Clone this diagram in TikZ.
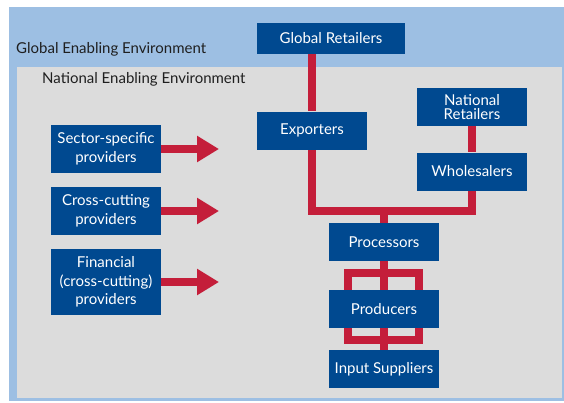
\documentclass[tikz,border=0pt]{standalone}
\usepackage{fontspec}
\setmainfont{Lato}
\usetikzlibrary{arrows.meta, positioning, calc, backgrounds}
\definecolor{vcblue}{RGB}{0,73,144}
\definecolor{vcred}{RGB}{196,30,58}
\definecolor{globalbg}{RGB}{157,191,227}
\definecolor{nationalbg}{RGB}{220,220,220}
\tikzset{
    chainbox/.style={fill=vcblue, text=white, inner sep=0pt, minimum width=110pt, minimum height=38pt, align=center, font=\fontsize{15}{13.5}\selectfont},
    provbox/.style={chainbox, minimum height=48pt, font=\fontsize{15}{18.5}\selectfont},
    link/.style={draw=vcred, line width=8pt},
    supportarrow/.style={draw=vcred, line width=8pt, -{Triangle[width=25pt,length=22pt]}},
    envlabel/.style={anchor=base west, inner sep=0pt, font=\fontsize{15}{15}\selectfont, text=black!88},
}

\begin{document}
\begin{tikzpicture}[x=1pt, y=-1pt]
\useasboundingbox (0,0) rectangle (564,402);
% value chain
\node[chainbox, minimum width=148pt, minimum height=31pt] (gret) at (331,38.5) {Global Retailers};
\node[chainbox] (exp) at (312,130.5) {Exporters};
\node[chainbox] (nret) at (472,107) {National\\Retailers};
\node[chainbox] (whol) at (472,171.5) {Wholesalers};
\node[chainbox] (proc) at (384,242) {Processors};
\node[chainbox] (prod) at (384,309) {Producers};
\node[chainbox] (inp) at (384,369) {Input Suppliers};
% providers
\node[provbox] (sect) at (106,149) {Sector-specific\\providers};
\node[provbox] (cross) at (106,211) {Cross-cutting\\providers};
\node[provbox, minimum height=66pt] (fin) at (106,282) {Financial\\(cross-cutting)\\providers};
% environments
\node[envlabel] (glabel) at (16,53) {Global Enabling Environment};
\node[envlabel] (nlabel) at (42,83) {National Enabling Environment};
\coordinate (tips) at (219,0);
\foreach \p in {sect,cross,fin}
    \draw[supportarrow] (\p.east) -- (\p.east -| tips);
\begin{scope}[on background layer]
\fill[globalbg] (9,7) rectangle (564,401);
\fill[nationalbg] (17,67) rectangle (562,398);
\coordinate (merge) at (384,211);
\coordinate (loopnw) at (348,273);
\coordinate (loopse) at (419,340);
\draw[link] (exp |- gret.south) -- (exp.north);
\draw[link] (nret) -- (whol);
\draw[link] (exp.south) |- (merge) -| (whol.south);
\draw[link] (merge) -- (proc.north);
\draw[link] (proc) -- (inp);
\draw[link] (loopnw) rectangle (loopse);
\end{scope}
\end{tikzpicture}
\end{document}
